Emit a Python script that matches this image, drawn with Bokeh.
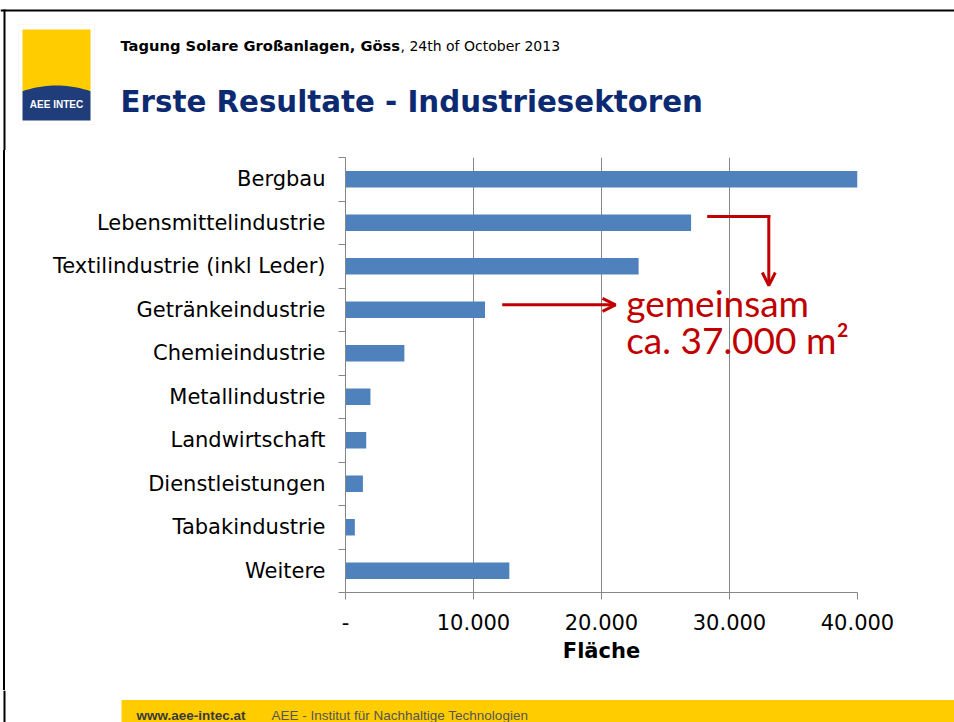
from bokeh.plotting import figure
from bokeh.layouts import column, row
from bokeh.models import (Range1d, FixedTicker, Label, BoxAnnotation, PolyAnnotation,
                          Arrow, OpenHead, Spacer)
from bokeh.embed import file_html
from bokeh.resources import INLINE

# ---- data ----
categories = ["Bergbau", "Lebensmittelindustrie", "Textilindustrie (inkl Leder)",
              "Getränkeindustrie", "Chemieindustrie", "Metallindustrie",
              "Landwirtschaft", "Dienstleistungen", "Tabakindustrie", "Weitere"]
flaeche = [40000, 27000, 22900, 10900, 4600, 1950, 1620, 1360, 730, 12800]
x_ticks = [0, 10000, 20000, 30000, 40000]
x_tick_labels = ["-", "10.000", "20.000", "30.000", "40.000"]

header_bold = "Tagung Solare Großanlagen, Göss"
header_normal = ", 24th of October 2013"
title_text = "Erste Resultate - Industriesektoren"
note_lines = ["gemeinsam", "ca. 37.000 m²"]
footer_url = "www.aee-intec.at"
footer_org = "AEE - Institut für Nachhaltige Technologien"
logo_text = "AEE INTEC"

n = len(categories)
positions = list(range(n))

GRAY = "#868686"
BLUE = "#4F81BD"
RED = "#C00000"
NAVY = "#0b2a72"
YELLOW = "#FFCC00"
FONT = "DejaVu Sans"
W, H = 954, 722
HEAD_H, FOOT_H = 150, 32
CHART_H = H - HEAD_H - FOOT_H
STRIP_W = 6


def canvas(w, h):
    f = figure(width=w, height=h, output_backend="svg", toolbar_location=None,
               x_range=Range1d(0, w), y_range=Range1d(h, 0),
               x_axis_type=None, y_axis_type=None, min_border=0)
    f.outline_line_color = None
    f.background_fill_color = "white"
    f.border_fill_color = "white"
    return f


def box(f, l, r, t, b, color, line=None):
    f.add_layout(BoxAnnotation(left=l, right=r, top=t, bottom=b,
                               fill_color=color, fill_alpha=1,
                               line_color=line, line_width=1))


def lab(f, text, x, y, size, color="black", style="normal", font=FONT,
        align="left", baseline="alphabetic"):
    f.add_layout(Label(x=x, y=y, text=text, text_font=font, text_font_size=size,
                       text_color=color, text_font_style=style,
                       text_align=align, text_baseline=baseline))


# ---- header ----
head = canvas(W, HEAD_H)
box(head, 0, W, 9, 11, "black")
box(head, 3, 5, 9, HEAD_H, "black")
box(head, 18, 94, 24, 124, "white", line="#e8e8e8")
box(head, 22, 90, 29, 91, YELLOW)
arc_x = [22 + i * 68 / 20 for i in range(21)]
arc_y = [85.0 + 5.7 * ((x - 56) / 34) ** 2 for x in arc_x]
head.add_layout(PolyAnnotation(xs=arc_x + [90, 22], ys=arc_y + [120, 120],
                               fill_color="#1f3d7a", fill_alpha=1, line_color=None))
lab(head, logo_text, 56, 104, "10px", color="white", style="bold",
    font="Liberation Sans", align="center", baseline="middle")
lab(head, header_bold, 120, 45, "14.7px", style="bold")
lab(head, header_normal, 400, 45, "14px")
lab(head, title_text, 120, 101, "29.3px", color=NAVY, style="bold")

# ---- left border strip beside the chart ----
strip = Spacer(width=STRIP_W, height=CHART_H,
               styles={"background-image":
                       "linear-gradient(to right, #ffffff 3px, #000000 3px, "
                       "#000000 5px, #ffffff 5px)"})

# ---- chart ----
p = figure(width=W - STRIP_W, height=CHART_H, output_backend="svg",
           toolbar_location=None,
           x_range=Range1d(0, 40000), y_range=Range1d(n - 0.5, -0.5),
           min_border_left=345 - STRIP_W, min_border_right=W - 857,
           min_border_top=157 - HEAD_H, min_border_bottom=HEAD_H + CHART_H - 592)
p.outline_line_color = None
p.background_fill_color = "white"
p.border_fill_color = "white"

p.hbar(y=positions, left=0, right=flaeche, height=0.384, fill_color=BLUE,
       line_color=None)

p.xaxis.ticker = FixedTicker(ticks=x_ticks)
p.xaxis.major_label_overrides = {t: l for t, l in zip(x_ticks, x_tick_labels)}
p.xaxis.axis_line_color = GRAY
p.xaxis.major_tick_line_color = GRAY
p.xaxis.major_tick_out = 7
p.xaxis.major_tick_in = 0
p.xaxis.minor_tick_line_color = None
p.xaxis.major_label_text_font = FONT
p.xaxis.major_label_text_font_size = "21px"
p.xaxis.major_label_text_color = "black"
p.xaxis.major_label_standoff = 14
p.xaxis.axis_label = "Fläche"
p.xaxis.axis_label_text_font = FONT
p.xaxis.axis_label_text_font_size = "21px"
p.xaxis.axis_label_text_font_style = "bold"
p.xaxis.axis_label_text_color = "black"
p.xaxis.axis_label_standoff = 6

p.yaxis.ticker = FixedTicker(ticks=positions,
                             minor_ticks=[i - 0.5 for i in range(n + 1)])
p.yaxis.major_label_overrides = {i: c for i, c in zip(positions, categories)}
p.yaxis.axis_line_color = GRAY
p.yaxis.major_tick_line_color = None
p.yaxis.major_tick_out = 7
p.yaxis.major_tick_in = 0
p.yaxis.minor_tick_line_color = GRAY
p.yaxis.minor_tick_out = 7
p.yaxis.minor_tick_in = 0
p.yaxis.major_label_text_font = FONT
p.yaxis.major_label_text_font_size = "21px"
p.yaxis.major_label_text_color = "black"
p.yaxis.major_label_standoff = 13

p.xgrid.ticker = FixedTicker(ticks=x_ticks)
p.xgrid.grid_line_color = GRAY
p.ygrid.visible = False

# red arrows and note
p.add_layout(Arrow(end=None, x_start=28258, y_start=0.856, x_end=33188, y_end=0.856,
                   line_color=RED, line_width=3))
p.add_layout(Arrow(end=OpenHead(size=13, line_color=RED, line_width=3),
                   x_start=33070, y_start=0.822, x_end=33070, y_end=2.443,
                   line_color=RED, line_width=3))
p.add_layout(Arrow(end=OpenHead(size=13, line_color=RED, line_width=3),
                   x_start=12242, y_start=2.886, x_end=21094, y_end=2.886,
                   line_color=RED, line_width=3))
lab(p, note_lines[0], 21930, 2.835, "37px", color=RED, font="Lato")
lab(p, note_lines[1], 21930, 3.686, "37px", color=RED, font="Lato")

# ---- footer ----
foot = canvas(W, FOOT_H)
box(foot, 3, 5, 0, FOOT_H, "black")
box(foot, 121, W, 9.5, FOOT_H, YELLOW)
lab(foot, footer_url, 136, 25, "13.5px", color="#3a3a3a", style="bold",
    font="Liberation Sans")
lab(foot, footer_org, 271, 25, "13.5px", color="#555555", font="Liberation Sans")

layout = column(head, row(strip, p, spacing=0), foot, spacing=0)
open("out.html", "w").write(file_html(layout, INLINE))
